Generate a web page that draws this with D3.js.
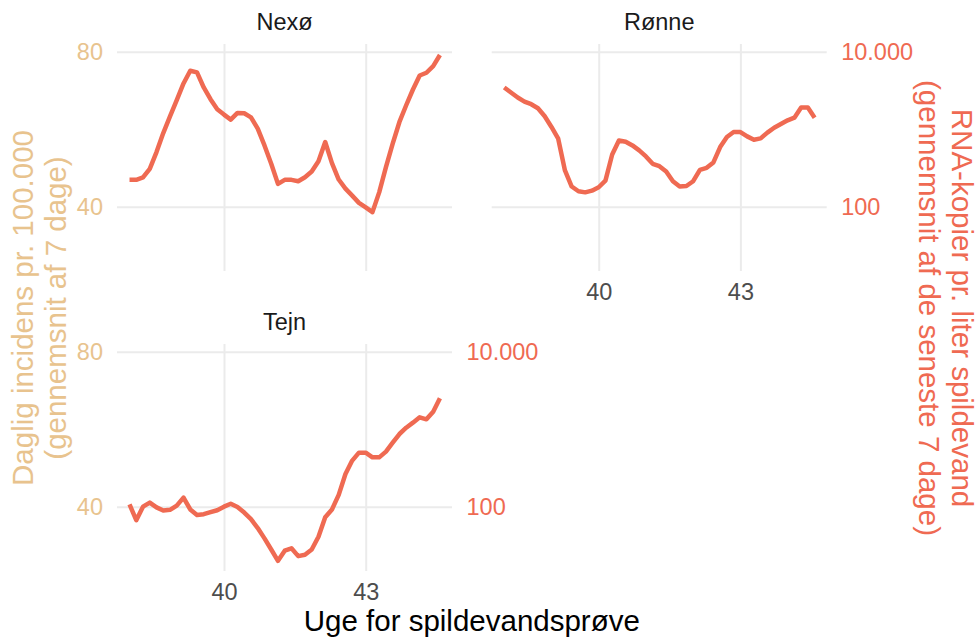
<!DOCTYPE html>
<html>
<head>
<meta charset="utf-8">
<script src="https://cdn.jsdelivr.net/npm/d3@7"></script>
<style>
  body { margin: 0; background: #fff; }
  svg { display: block; font-family: "Liberation Sans", Arial, sans-serif; }
</style>
</head>
<body>
<svg id="chart" width="979" height="644"></svg>
<script>
// Renseanlæg (facetter) og ugeakse
const facetter = ["Nexø", "Rønne", "Tejn"];
const startUge = 38;           // første prøvedag ligger i starten af uge 38
const ugeTicks = [40, 43];
const incidensTicks = [40, 80];
const rnaTicks = [100, 10000];

// RNA-kopier pr. liter spildevand, glidende 7-dages gennemsnit, én værdi pr. dag
const nexo = [222, 222, 238, 308, 506, 891, 1466, 2366, 3890, 5675, 5395, 3451, 2438, 1807, 1542, 1327,
  1622, 1603, 1422, 1014, 617, 357, 197, 222, 222, 213, 240, 284, 386, 682, 365, 224, 171, 139, 112,
  98, 85, 153, 324, 649, 1239, 2037, 3251, 4932, 5346, 6516, 9057];
const roenne = [3451, 2972, 2559, 2270, 2099, 1862, 1466, 1067, 753, 293, 182, 158, 153, 161, 178, 217,
  472, 716, 689, 617, 532, 445, 357, 333, 284, 213, 182, 185, 213, 299, 317, 372, 588, 791, 918,
  918, 807, 731, 760, 902, 1045, 1167, 1300, 1409, 1901, 1901, 1409];
const tejn = [107, 67, 100, 113, 98, 89, 91, 103, 131, 92, 78, 80, 85, 90, 100, 109,
  99, 84, 69, 53, 39, 28, 20, 27, 29, 23, 24, 28, 41, 73, 92, 142, 264, 393, 498,
  498, 433, 433, 513, 670, 866, 1045, 1213, 1422, 1339, 1682, 2500];

const serier = { "Nexø": nexo, "Rønne": roenne, "Tejn": tejn };

const farveRNA = "#EF6A52";
const farveIncidens = "#E8C38E";
const gitterFarve = "#EBEBEB";

const dk = d3.formatLocale({ decimal: ",", thousands: ".", grouping: [3], currency: ["", " kr."] });
const fmt = dk.format(",d");

// Panelgeometri (2 kolonner, facet_wrap-stil)
const pw = 335, ph = 227;
const colX = [117, 491.7];
const rowY = [44, 344];

const x = d3.scaleLinear().domain([37.735, 44.827]).range([0, pw]);
const y = d3.scaleLog().domain([Math.pow(10, 1.170), Math.pow(10, 4.099)]).range([ph, 0]);
// Primær akse (incidens) lagt oven på samme lodrette placering
const yInc = d3.scaleLinear().domain([40, 80]).range([y(100), y(10000)]);

const svg = d3.select("#chart");

const line = d3.line()
  .x((d, i) => x(startUge + i / 7))
  .y(d => y(d));

facetter.forEach((navn, k) => {
  const col = k % 2, row = Math.floor(k / 2);
  const g = svg.append("g").attr("transform", `translate(${colX[col]},${rowY[row]})`);

  // lodrette gitterlinjer
  g.append("g")
    .call(d3.axisBottom(x).tickValues(ugeTicks).tickSize(-ph).tickFormat(""))
    .attr("transform", `translate(0,${ph})`)
    .call(a => a.select(".domain").remove())
    .call(a => a.selectAll("line").attr("stroke", gitterFarve).attr("stroke-width", 2));

  // vandrette gitterlinjer
  g.append("g")
    .call(d3.axisLeft(yInc).tickValues(incidensTicks).tickSize(-pw).tickFormat(""))
    .call(a => a.select(".domain").remove())
    .call(a => a.selectAll("line").attr("stroke", gitterFarve).attr("stroke-width", 2));

  // RNA-kurven
  g.append("path")
    .datum(serier[navn])
    .attr("fill", "none")
    .attr("stroke", farveRNA)
    .attr("stroke-width", 4.5)
    .attr("stroke-linejoin", "round")
    .attr("d", line);

  // facettitel
  g.append("text")
    .attr("x", pw / 2).attr("y", -14)
    .attr("text-anchor", "middle")
    .attr("fill", "#1A1A1A")
    .style("font-size", "23.5px")
    .text(navn);

  // venstre akse (incidens) kun i første kolonne
  if (col === 0) {
    g.append("g")
      .call(d3.axisLeft(yInc).tickValues(incidensTicks).tickSize(0).tickPadding(14).tickFormat(d3.format("d")))
      .call(a => a.select(".domain").remove())
      .call(a => a.selectAll("text").attr("fill", farveIncidens).style("font-size", "23.5px")
        .attr("font-family", "Liberation Sans, Arial, sans-serif"));
  }
  // højre akse (RNA) på sidste panel i hver række
  if (col === 1 || k === facetter.length - 1) {
    g.append("g")
      .attr("transform", `translate(${pw},0)`)
      .call(d3.axisRight(y).tickValues(rnaTicks).tickSize(0).tickPadding(14.5).tickFormat(fmt))
      .call(a => a.select(".domain").remove())
      .call(a => a.selectAll("text").attr("fill", farveRNA).style("font-size", "23.5px")
        .attr("font-family", "Liberation Sans, Arial, sans-serif"));
  }
  // x-akse på nederste panel i hver kolonne
  if (row === 1 || k + 2 >= facetter.length) {
    g.append("g")
      .attr("transform", `translate(0,${ph})`)
      .call(d3.axisBottom(x).tickValues(ugeTicks).tickSize(0).tickPadding(12).tickFormat(d3.format("d")))
      .call(a => a.select(".domain").remove())
      .call(a => a.selectAll("text").attr("fill", "#4D4D4D").style("font-size", "23.5px")
        .attr("font-family", "Liberation Sans, Arial, sans-serif"));
  }
});

// Aksetitler
svg.append("text")
  .attr("x", 471.8).attr("y", 631)
  .attr("text-anchor", "middle")
  .attr("fill", "#000")
  .style("font-size", "29.5px")
  .text("Uge for spildevandsprøve");

const venstre = svg.append("g").attr("transform", "translate(0,308) rotate(-90)")
  .attr("fill", farveIncidens).style("font-size", "29.5px").attr("text-anchor", "middle");
venstre.append("text").attr("x", 0).attr("y", 33).text("Daglig incidens pr. 100.000");
venstre.append("text").attr("x", 0).attr("y", 66).text("(gennemsnit af 7 dage)");

const hoejre = svg.append("g").attr("transform", "translate(977,308) rotate(90)")
  .attr("fill", farveRNA).style("font-size", "29.5px").attr("text-anchor", "middle");
hoejre.append("text").attr("x", 0).attr("y", 25).text("RNA-kopier pr. liter spildevand");
hoejre.append("text").attr("x", 0).attr("y", 58).text("(gennemsnit af de seneste 7 dage)");
</script>
</body>
</html>
